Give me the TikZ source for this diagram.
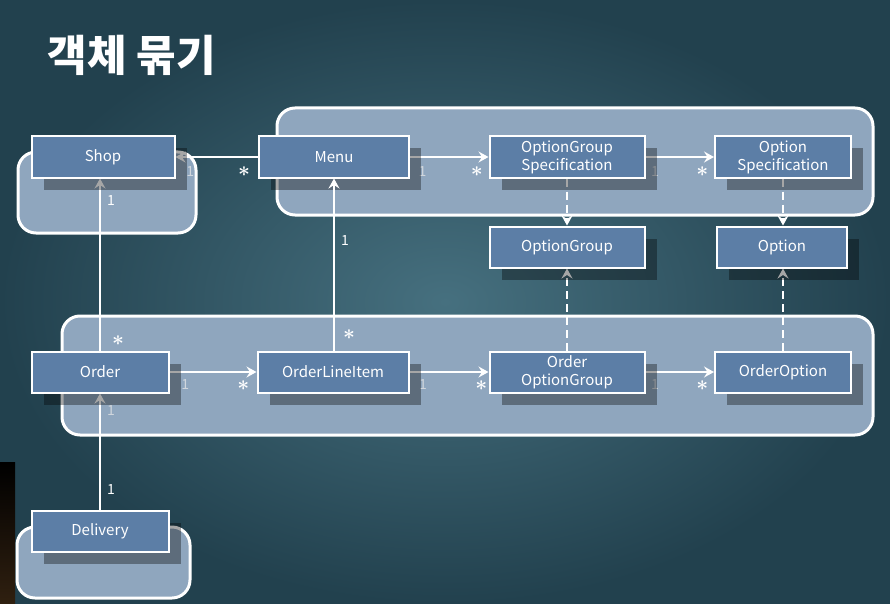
\documentclass[tikz,border=0pt]{standalone}
\usepackage{fontspec}
\setmainfont{Noto Sans CJK KR}
\usetikzlibrary{arrows.meta, shadows}
\tikzset{>={Stealth[length=10pt, width=11pt, inset=3.5pt]}}
\pgfdeclarelayer{back}
\pgfdeclarelayer{lines}
\pgfsetlayers{back,lines,main}
\definecolor{slatein}{HTML}{46707F}
\definecolor{slateout}{HTML}{22414E}
\definecolor{boxblue}{HTML}{5C7EA6}
\definecolor{grpblue}{HTML}{8FA6BE}
\definecolor{dimtext}{HTML}{D0D6DD}

\begin{document}
\begin{tikzpicture}[x=1pt, y=-1pt,
    cls/.style = {draw = white, line width = 2pt, fill = boxblue, text = white,
                  font = \fontsize{15}{18}\selectfont, minimum height = 41pt,
                  inner sep = 2pt, align = center,
                  drop shadow = {shadow xshift = 12pt, shadow yshift = -12pt,
                                 fill = black, opacity = 0.35}},
    grp/.style = {draw = white, line width = 3pt, fill = grpblue, rounded corners = 18pt},
    mult/.style = {text = white, font = \fontsize{14}{14}\selectfont, inner sep = 1pt},
    dim/.style = {mult, text = dimtext},
    many/.style = {text = white, font = \fontsize{20}{20}\selectfont\boldmath, inner sep = 0pt},
    link/.style = {->, white, line width = 2pt},
    dep/.style = {->, white, line width = 2.5pt, dash pattern = on 8pt off 5pt}]
    \useasboundingbox (0,0) rectangle (890,604);

    % classes
    \node [cls, minimum width = 143pt] (shop) at (103,157) {Shop};
    \node [cls, minimum width = 150pt] (menu) at (334,157) {Menu};
    \node [cls, minimum width = 155pt] (ogspec) at (567,157) {OptionGroup\\Specification};
    \node [cls, minimum width = 136pt] (ospec) at (783,157) {Option\\Specification};
    \node [cls, minimum width = 155pt] (ogroup) at (567,247) {OptionGroup};
    \node [cls, minimum width = 130pt] (option) at (782,247) {Option};
    \node [cls, minimum width = 137pt] (order) at (100,372) {Order};
    \node [cls, minimum width = 151pt] (lineitem) at (333,372) {OrderLineItem};
    \node [cls, minimum width = 155pt] (ordergroup) at (567,372) {Order\\OptionGroup};
    \node [cls, minimum width = 136pt] (orderoption) at (783,372) {OrderOption};
    \node [cls, minimum width = 137pt] (delivery) at (100,531) {Delivery};

    \node [text = white, anchor = west, font = \fontsize{43}{43}\selectfont\bfseries] (title) at (44,55) {객체 묶기};

    \begin{pgfonlayer}{back}
        \shade [inner color = slatein, outer color = slateout] (0,0) rectangle (890,604);
        \shade [top color = black, bottom color = black!75!brown] (0,462) rectangle (15,604);
        \draw [grp] (18,152) rectangle (196,233);
        \draw [grp] (277,108) rectangle (873,215);
        \draw [grp] (62,316) rectangle (873,435);
        \draw [grp] (17,527) rectangle (190,598);
    \end{pgfonlayer}

    \begin{pgfonlayer}{lines}
        \draw [link] (menu.west) -- node [many, pos = 0.17, below = 9pt] {$\ast$}
                                    node [dim, pos = 0.82, below = 8pt] {1} (shop.east);
        \draw [link] (menu.east) -- node [dim, pos = 0.16, below = 8pt] {1}
                                    node [many, pos = 0.85, below = 9pt] {$\ast$} (ogspec.west);
        \draw [link] (ogspec.east) -- node [dim, pos = 0.14, below = 8pt] {1}
                                      node [many, pos = 0.83, below = 9pt] {$\ast$} (ospec.west);
        \draw [link] (order.east) -- node [dim, pos = 0.18, below = 6pt] {1}
                                     node [many, pos = 0.85, below = 8pt] {$\ast$} (lineitem.west);
        \draw [link] (lineitem.east) -- node [dim, pos = 0.17, below = 6pt] {1}
                                        node [many, pos = 0.91, below = 8pt] {$\ast$} (ordergroup.west);
        \draw [link] (ordergroup.east) -- node [dim, pos = 0.14, below = 6pt] {1}
                                          node [many, pos = 0.83, below = 8pt] {$\ast$} (orderoption.west);
        \draw [link] (order.north) -- node [many, pos = 0.06, right = 11pt] {$\ast$}
                                      node [mult, pos = 0.87, right = 5pt] {1} (order.north |- shop.south);
        \draw [link] (delivery.north) -- node [mult, pos = 0.17, right = 5pt] {1}
                                         node [dim, pos = 0.85, right = 5pt] {1} (order.south);
        \draw [dep] (ogspec) -- (ogroup);
        \draw [dep] (ospec.south) -- (ospec.south |- option.north);
        \draw [dep] (ordergroup) -- (ogroup);
        \draw [dep] (orderoption.north) -- (orderoption.north |- option.south);
    \end{pgfonlayer}

    \draw [link] (lineitem.north -| menu.south) -- node [many, pos = 0.09, right = 8pt] {$\ast$}
                                                  node [mult, pos = 0.64, right = 5pt] {1} (menu.south);
\end{tikzpicture}
\end{document}
